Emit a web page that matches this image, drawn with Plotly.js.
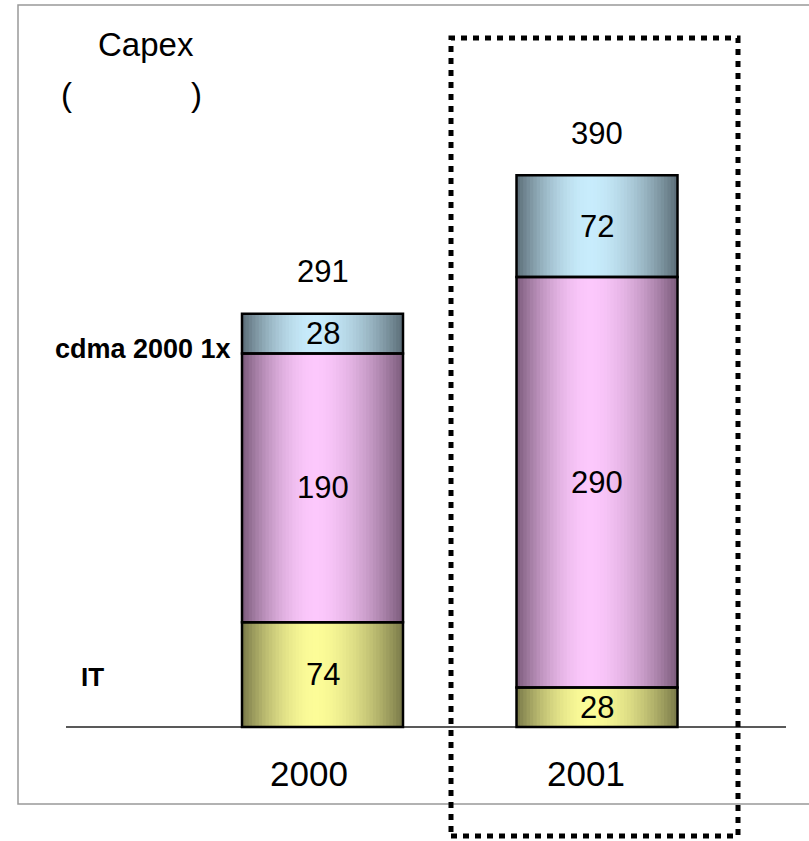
<!DOCTYPE html>
<html>
<head>
<meta charset="utf-8">
<script src="https://cdn.plot.ly/plotly-3.0.1.min.js"></script>
<style>html,body{margin:0;padding:0;background:#fff;}#chart{width:809px;height:841px;}</style>
</head>
<body>
<div id="chart"></div>
<script>
// ---- data ----
const categories = ['2000', '2001'];
const itValues = [74, 28];
const middleValues = [190, 290];
const cdmaValues = [28, 72];
const totals = [291, 390];
const seriesNames = ['IT', '', 'cdma 2000 1x'];

// ---- styling ----
const W = 809, H = 841;
const FONT = 'Liberation Sans, Arial, sans-serif';
const segColors = [
  {edge: [120, 120, 72], center: [252, 252, 152]},
  {edge: [122, 90, 122], center: [252, 200, 252]},
  {edge: [90, 108, 118], center: [200, 236, 252]}
];
const barWidth = 0.5865;
const N = 48;
const xRange = [-1.1749, 1.7723];
const pxPerUnit = 1.415;
const axisPx = 727;
const yRange = [-(H - axisPx) / pxPerUnit, axisPx / pxPerUnit];

const segValues = [itValues, middleValues, cdmaValues];
const segBases = [
  categories.map(() => 0),
  itValues.slice(),
  itValues.map((v, i) => v + middleValues[i])
];

function mix(a, b, f) {
  return 'rgb(' + a.map((c, k) => Math.round(c + (b[k] - c) * f)).join(',') + ')';
}
function gradColor(sc, t) {
  const p = 0.45;
  const d = t < p ? (p - t) / p : (t - p) / (1 - p);
  const f = 1 - Math.pow(d, 1.8);
  return mix(sc.edge, sc.center, f);
}

const traces = [];
segValues.forEach((vals, s) => {
  for (let i = 0; i < N; i++) {
    const t = (i + 0.5) / N;
    const sw = barWidth / N;
    traces.push({
      type: 'bar', x: categories, y: vals, base: segBases[s],
      width: categories.map(() => sw * (i < N - 1 ? 1.6 : 1)),
      offset: categories.map(() => -barWidth / 2 + i * sw),
      marker: {color: gradColor(segColors[s], t), line: {width: 0}},
      hoverinfo: 'skip', showlegend: false
    });
  }
});
segValues.forEach((vals, s) => {
  traces.push({
    type: 'bar', x: categories, y: vals, base: segBases[s],
    width: categories.map(() => barWidth),
    marker: {color: 'rgba(0,0,0,0)', line: {color: '#000', width: 2.5}},
    hoverinfo: 'skip', showlegend: false
  });
});

const annotations = [];
segValues.forEach((vals, s) => {
  vals.forEach((v, i) => {
    annotations.push({
      x: i, y: segBases[s][i] + v / 2, xref: 'x', yref: 'y',
      xanchor: 'center', yanchor: 'middle',
      text: String(v), showarrow: false, font: {family: FONT, size: 31, color: '#000'}
    });
  });
});
totals.forEach((v, i) => {
  annotations.push({
    x: i, y: segBases[2][i] + cdmaValues[i], xref: 'x', yref: 'y',
    text: String(v), showarrow: false, xanchor: 'center', yanchor: 'middle', yshift: 42,
    font: {family: FONT, size: 31, color: '#000'}
  });
});
categories.forEach((c, i) => {
  annotations.push({
    x: i, y: 0, xref: 'x', yref: 'y', text: c, showarrow: false,
    xanchor: 'center', yanchor: 'middle', yshift: -46, xshift: i === 0 ? -14 : -11,
    font: {family: FONT, size: 35, color: '#000'}
  });
});
// series labels on the left of the first bar
annotations.push({
  x: 233 / W, xref: 'paper', xanchor: 'right', yanchor: 'middle',
  y: segBases[2][0] + cdmaValues[0] / 2, yref: 'y', yshift: -15,
  text: '<b>' + seriesNames[2] + '</b>', showarrow: false,
  font: {family: FONT, size: 27, color: '#000'}
});
annotations.push({
  x: 92 / W, xref: 'paper', xanchor: 'center', yanchor: 'middle',
  y: itValues[0] / 2, yref: 'y', yshift: -2,
  text: '<b>' + seriesNames[0] + '</b>', showarrow: false,
  font: {family: FONT, size: 26, color: '#000'}
});
// title
annotations.push({
  x: 146 / W, y: 1 - 44 / H, xref: 'paper', yref: 'paper', xanchor: 'center', yanchor: 'middle',
  text: 'Capex', showarrow: false, font: {family: FONT, size: 33, color: '#000'}
});
annotations.push({
  x: 66 / W, y: 1 - 94 / H, xref: 'paper', yref: 'paper', xanchor: 'center', yanchor: 'middle',
  text: '(', showarrow: false, font: {family: FONT, size: 33, color: '#000'}
});
annotations.push({
  x: 196 / W, y: 1 - 94 / H, xref: 'paper', yref: 'paper', xanchor: 'center', yanchor: 'middle',
  text: ')', showarrow: false, font: {family: FONT, size: 33, color: '#000'}
});

const shapes = [
  {type: 'rect', xref: 'paper', yref: 'paper', x0: 18 / W, x1: 1.02, y0: 1 - 804 / H, y1: 1 - 5 / H,
   line: {color: '#999', width: 1.5}, fillcolor: 'rgba(0,0,0,0)', layer: 'below'},
  {type: 'line', xref: 'paper', yref: 'y', x0: 66 / W, x1: 786 / W, y0: 0, y1: 0,
   line: {color: '#222', width: 1.5}, layer: 'below'},
  {type: 'rect', xref: 'paper', yref: 'paper', x0: 451 / W, x1: 738 / W, y0: 1 - 836 / H, y1: 1 - 38 / H,
   line: {color: '#000', width: 5, dash: '6px,6px'}, fillcolor: 'rgba(0,0,0,0)', layer: 'above'}
];

const layout = {
  width: W, height: H,
  margin: {l: 0, r: 0, t: 0, b: 0, pad: 0},
  paper_bgcolor: '#fff', plot_bgcolor: 'rgba(0,0,0,0)',
  barmode: 'overlay', showlegend: false,
  xaxis: {type: 'category', range: xRange, visible: false, fixedrange: true},
  yaxis: {range: yRange, visible: false, fixedrange: true},
  annotations: annotations, shapes: shapes
};
Plotly.newPlot('chart', traces, layout, {staticPlot: true, displayModeBar: false});
</script>
</body>
</html>
